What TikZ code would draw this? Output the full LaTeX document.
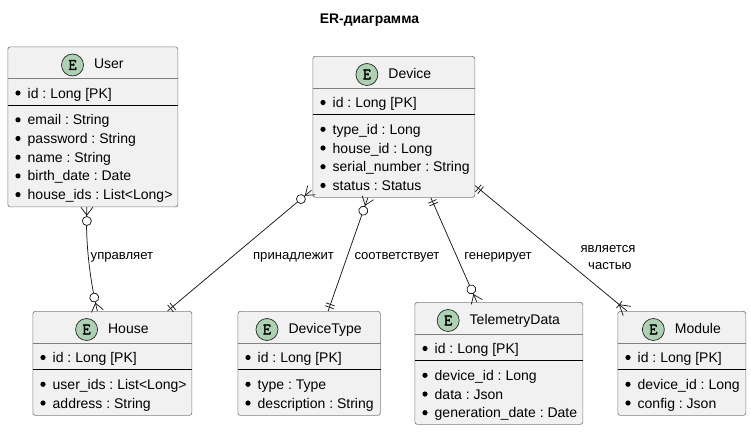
\documentclass[tikz,border=0pt]{standalone}
\usepackage{fontspec}
\setmainfont{Liberation Sans}
\newfontfamily\badgefont[FakeBold=2]{Latin Modern Mono}
\usetikzlibrary{positioning}
\definecolor{boxfill}{HTML}{F1F1F1}
\definecolor{boxline}{HTML}{7F7F7F}
\definecolor{badgefill}{HTML}{ADD1B2}
\frenchspacing
\tikzset{
  boxshape/.style={draw=boxline, fill=boxfill, line width=0.7pt, rounded corners=2.5pt, inner sep=0pt, anchor=north west},
  badge/.style={circle, draw=black!85, fill=badgefill, line width=0.7pt, minimum size=22pt, inner sep=0pt, font=\badgefont\fontsize{16}{16}\selectfont},
  titletext/.style={inner sep=0pt, text height=10pt, text depth=3pt, font=\fontsize{14}{16}\selectfont},
  fieldtext/.style={inner sep=0pt, anchor=base west, font=\fontsize{14}{16}\selectfont},
  linktext/.style={inner sep=0pt, align=center, font=\fontsize{13.1}{17.3}\selectfont},
  link/.style={line width=0.75pt, black!90},
  zeromany/.pic={
    \draw[link] (0,-6) -- (8,0) -- (0,6);
    \draw[link, fill=white] (13.8,0) circle (4.5);
  },
  oneone/.pic={
    \draw[link] (4,-4.5) -- (4,4.5);
    \draw[link] (7,-4.5) -- (7,4.5);
  },
  onemany/.pic={
    \draw[link] (0,-6) -- (10,0) -- (0,6);
    \draw[link] (10,-4.5) -- (10,4.5);
  }
}
\newcommand{\entity}[8]{
  \node[boxshape, minimum width=#4pt, minimum height=#5pt] (#1) at (#2,#3) {};
  \draw[boxline, line width=0.7pt] ([yshift=-32pt]#1.north west) -- ([yshift=-32pt]#1.north east);
  \draw[black, line width=0.8pt] ([yshift=-58.5pt]#1.north west) -- ([yshift=-58.5pt]#1.north east);
  \node[titletext] (#1-title) at ([xshift=16pt,yshift=-18.5pt]#1.north) {#6};
  \node[badge, left=10pt of #1-title] (#1-badge) {E};
  \node[fieldtext] (#1-pk) at ([xshift=20pt,yshift=-51.5pt]#1.north west) {#7};
  \fill ([xshift=10.5pt,yshift=-46.5pt]#1.north west) circle (2.6);
  \foreach \f [count=\i, evaluate=\i as \rowy using 78.3+18.7*(\i-1)] in {#8} {
    \node[fieldtext] (#1-f\i) at ([xshift=20pt,yshift=-\rowy pt]#1.north west) {\f};
    \fill ([xshift=10.5pt,yshift=-\rowy pt+5pt]#1.north west) circle (2.6);
  }
}
\begin{document}
\begin{tikzpicture}[x=1pt, y=-1pt]
  \useasboundingbox (0,0) rectangle (751,431);
  \node[inner sep=0pt, font=\bfseries\fontsize{13.9}{16}\selectfont] (diagramtitle) at (369.5,20) {ER-диаграмма};

  \entity{user}{7.5}{46.5}{170}{160}{User}{id : Long [PK]}{email : String, password : String, name : String, birth\_date : Date, house\_ids : List<Long>}
  \entity{device}{312.5}{56}{162}{141}{Device}{id : Long [PK]}{type\_id : Long, house\_id : Long, serial\_number : String, status : Status}
  \entity{house}{32.5}{311}{159}{104}{House}{id : Long [PK]}{user\_ids : List<Long>, address : String}
  \entity{devicetype}{237.5}{311}{142.5}{104}{DeviceType}{id : Long [PK]}{type : Type, description : String}
  \entity{telemetry}{414.5}{302}{168}{122}{TelemetryData}{id : Long [PK]}{device\_id : Long, data : Json, generation\_date : Date}
  \entity{module}{617.5}{311}{128}{104}{Module}{id : Long [PK]}{device\_id : Long, config : Json}

  \draw[link] ([xshift=-6pt]user.south) .. controls (85,245) and (91,285) .. ([xshift=-15pt]house.north);
  \draw[link] ([xshift=-1pt,yshift=7.5pt]device.south west) -- ([xshift=135pt]house.north west);
  \draw[link] ([xshift=-26pt]device.south) -- ([xshift=19pt]devicetype.north);
  \draw[link] ([xshift=37pt]device.south) -- ([xshift=-22pt]telemetry.north);
  \draw[link] ([yshift=12pt]device.south east) -- ([xshift=9.5pt]module.north west);

  \pic[rotate=-90] at ([xshift=-6pt]user.south) {zeromany};
  \pic[rotate=103] at ([xshift=-15pt]house.north) {zeromany};
  \pic[rotate=220] at ([xshift=-1pt,yshift=7.5pt]device.south west) {zeromany};
  \pic[rotate=40] at ([xshift=135pt]house.north west) {oneone};
  \pic[rotate=-109.4] at ([xshift=-26pt]device.south) {zeromany};
  \pic[rotate=70.6] at ([xshift=19pt]devicetype.north) {oneone};
  \pic[rotate=-66.4] at ([xshift=37pt]device.south) {oneone};
  \pic[rotate=113.6] at ([xshift=-22pt]telemetry.north) {zeromany};
  \pic[rotate=-39.4] at ([yshift=12pt]device.south east) {oneone};
  \pic[rotate=140.6] at ([xshift=9.5pt]module.north west) {onemany};

  \node[linktext, anchor=west] (managelabel) at (90.5,257) {управляет};
  \node[linktext] (belonglabel) at (293.5,257) {принадлежит};
  \node[linktext] (matchlabel) at (397,257) {соответствует};
  \node[linktext] (generatelabel) at (498,257) {генерирует};
  \node[linktext] (partlabel) at (608,257.5) {является\\ \ частью};
\end{tikzpicture}
\end{document}
